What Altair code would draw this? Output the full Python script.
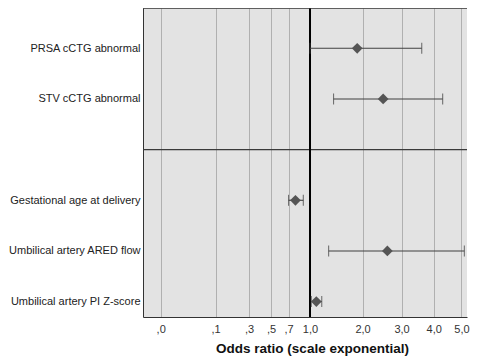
import altair as alt
import pandas as pd

# ---- data ----
labels = [
    "PRSA cCTG abnormal",
    "STV cCTG abnormal",
    "Gestational age at delivery",
    "Umbilical artery ARED flow",
    "Umbilical artery PI Z-score",
]
groups = ["cCTG", "cCTG", "other", "other", "other"]
odds = [1.88, 2.50, 0.79, 2.61, 1.10]
lower = [1.00, 1.40, 0.70, 1.31, 1.02]
upper = [3.61, 4.31, 0.90, 5.11, 1.19]
tick_values = [0.0, 0.1, 0.3, 0.5, 0.7, 1.0, 2.0, 3.0, 4.0, 5.0]
reference_or = 1.0

# row order with an empty slot between the two groups
rows = []
gap = 0
for i, g in enumerate(groups):
    if i > 0 and g != groups[i - 1]:
        gap += 1
    rows.append(i + gap)
divider_rows = [rows[i] - 1 for i in range(1, len(groups)) if groups[i] != groups[i - 1]]

df = pd.DataFrame({"label": labels, "row": rows, "odds": odds,
                   "lower": lower, "upper": upper})
div_df = pd.DataFrame({"row": divider_rows})
ref_df = pd.DataFrame({"x": [reference_or]})

W, H = 324, 309
xscale = alt.Scale(type="pow", exponent=0.4352, domain=[-0.00745, 5.213],
                   nice=False, zero=False)
yscale = alt.Scale(domain=[-0.796, 5.304], reverse=True, nice=False, zero=False)

label_expr = " : ".join(
    [f"datum.value == {r} ? '{l}'" for r, l in zip(rows, labels)] + ["''"]
)
x_label_expr = ("datum.value < 1 ? replace(format(datum.value, '.1f'), '0.', ',')"
                " : replace(format(datum.value, '.1f'), '.', ',')")

DARK = "#404040"

x_axis = alt.Axis(values=tick_values, labelExpr=x_label_expr, grid=True,
                  gridColor="#b0b0b0", gridWidth=1, ticks=False,
                  domain=True, domainColor="#333333", domainWidth=1,
                  labelOverlap=False, labelFlush=False, labelBound=False,
                  labelPadding=6, labelFontSize=11, labelColor="#333333",
                  labelFont="Liberation Sans",
                  title="Odds ratio (scale exponential)",
                  titleFont="Liberation Sans", titleFontSize=13.5,
                  titleFontWeight="bold", titleColor="#111111",
                  titlePadding=7, titleX=169)
y_axis = alt.Axis(values=rows, labelExpr=label_expr, grid=False, ticks=False,
                  domain=True, domainColor="#333333", domainWidth=1,
                  labelOverlap=False,
                  labelPadding=3, labelFontSize=11, labelColor="#222222",
                  labelFont="Liberation Sans", title=None, labelLimit=300)

X = lambda f: alt.X(f, scale=xscale, axis=x_axis)
Y = lambda f: alt.Y(f, scale=yscale, axis=y_axis)

# horizontal group divider
divider = alt.Chart(div_df).mark_rule(color="#3a3a3a", strokeWidth=1.3).encode(
    y=Y("row:Q")
)

# reference line at OR = 1
ref = alt.Chart(ref_df).mark_rule(color="black", strokeWidth=2).encode(
    x=X("x:Q")
)

bars = alt.Chart(df).mark_rule(color=DARK, strokeWidth=1.1).encode(
    x=X("lower:Q"),
    x2="upper:Q",
    y=Y("row:Q"),
)
cap_lo = alt.Chart(df).mark_tick(color=DARK, thickness=1.1, size=11,
                                 orient="vertical").encode(
    x=X("lower:Q"),
    y=Y("row:Q"),
)
cap_hi = alt.Chart(df).mark_tick(color=DARK, thickness=1.1, size=11,
                                 orient="vertical").encode(
    x=X("upper:Q"),
    y=Y("row:Q"),
)
points = alt.Chart(df).mark_point(shape="diamond", filled=True, size=115,
                                  color="#555555", opacity=1).encode(
    x=X("odds:Q"),
    y=Y("row:Q"),
)
top_line = alt.Chart(ref_df).mark_rule(color="#333333", strokeWidth=1.5).encode(
    x=alt.value(0), x2=alt.value(W), y=alt.value(0)
)

chart = alt.layer(divider, ref, bars, cap_lo, cap_hi, points, top_line).properties(
    width=W, height=H,
    autosize=alt.AutoSizeParams(type="none"),
    padding={"left": 135, "top": 0, "right": 6, "bottom": 40},
    background="white",
).configure_view(stroke=None, fill="#e3e3e3").configure_axis(labelOverlap=False)

chart.save("out.html", embed_options={"renderer": "svg", "actions": False})
